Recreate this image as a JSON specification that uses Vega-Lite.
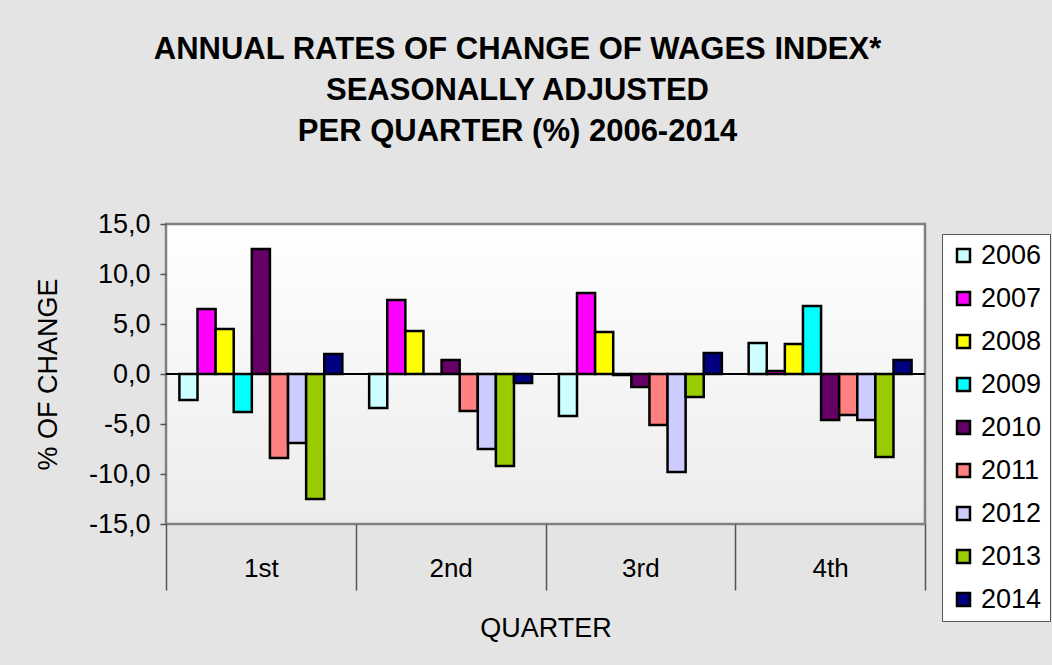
{
  "$schema": "https://vega.github.io/schema/vega-lite/v6.json",
  "width": 759,
  "height": 300,
  "autosize": {"type": "none"},
  "padding": {"left": 166, "top": 224, "right": 127, "bottom": 141},
  "background": "#e4e4e4",
  "title": {
    "text": ["ANNUAL RATES OF CHANGE OF WAGES INDEX*", "SEASONALLY ADJUSTED", "PER QUARTER (%) 2006-2014"],
    "font": "Liberation Sans",
    "fontSize": 31,
    "fontWeight": "bold",
    "lineHeight": 41,
    "anchor": "middle",
    "frame": "group",
    "dx": -28,
    "offset": 62,
    "color": "#000"
  },
  "data": {
    "values": [
      {"quarter": "1st", "year": "2006", "value": -2.6},
      {"quarter": "1st", "year": "2007", "value": 6.5},
      {"quarter": "1st", "year": "2008", "value": 4.5},
      {"quarter": "1st", "year": "2009", "value": -3.8},
      {"quarter": "1st", "year": "2010", "value": 12.5},
      {"quarter": "1st", "year": "2011", "value": -8.4},
      {"quarter": "1st", "year": "2012", "value": -6.9},
      {"quarter": "1st", "year": "2013", "value": -12.5},
      {"quarter": "1st", "year": "2014", "value": 2.0},
      {"quarter": "2nd", "year": "2006", "value": -3.4},
      {"quarter": "2nd", "year": "2007", "value": 7.4},
      {"quarter": "2nd", "year": "2008", "value": 4.3},
      {"quarter": "2nd", "year": "2009", "value": 0.0},
      {"quarter": "2nd", "year": "2010", "value": 1.4},
      {"quarter": "2nd", "year": "2011", "value": -3.7},
      {"quarter": "2nd", "year": "2012", "value": -7.5},
      {"quarter": "2nd", "year": "2013", "value": -9.2},
      {"quarter": "2nd", "year": "2014", "value": -0.9},
      {"quarter": "3rd", "year": "2006", "value": -4.2},
      {"quarter": "3rd", "year": "2007", "value": 8.1},
      {"quarter": "3rd", "year": "2008", "value": 4.2},
      {"quarter": "3rd", "year": "2009", "value": -0.1},
      {"quarter": "3rd", "year": "2010", "value": -1.3},
      {"quarter": "3rd", "year": "2011", "value": -5.1},
      {"quarter": "3rd", "year": "2012", "value": -9.8},
      {"quarter": "3rd", "year": "2013", "value": -2.3},
      {"quarter": "3rd", "year": "2014", "value": 2.1},
      {"quarter": "4th", "year": "2006", "value": 3.1},
      {"quarter": "4th", "year": "2007", "value": 0.3},
      {"quarter": "4th", "year": "2008", "value": 3.0},
      {"quarter": "4th", "year": "2009", "value": 6.8},
      {"quarter": "4th", "year": "2010", "value": -4.6},
      {"quarter": "4th", "year": "2011", "value": -4.1},
      {"quarter": "4th", "year": "2012", "value": -4.6},
      {"quarter": "4th", "year": "2013", "value": -8.3},
      {"quarter": "4th", "year": "2014", "value": 1.4}
    ]
  },
  "layer": [
    {
      "mark": {"type": "bar", "stroke": "#000", "strokeWidth": 2.5},
      "encoding": {
        "x": {
          "field": "quarter",
          "type": "nominal",
          "sort": ["1st", "2nd", "3rd", "4th"],
          "scale": {"paddingInner": 0, "paddingOuter": 0},
          "title": "QUARTER",
          "axis": {
            "labelAngle": 0,
            "tickBand": "extent",
            "tickSize": 66,
            "tickColor": "#555",
            "tickWidth": 1.5,
            "labelPadding": -35,
            "titlePadding": 25
          }
        },
        "xOffset": {
          "field": "year",
          "type": "nominal",
          "scale": {"paddingInner": 0, "paddingOuter": 0.74}
        },
        "y": {
          "field": "value",
          "type": "quantitative",
          "scale": {"domain": [-15, 15], "nice": false},
          "title": "% OF CHANGE",
          "axis": {
            "values": [-15, -10, -5, 0, 5, 10, 15],
            "labelExpr": "(datum.value < 0 ? '-' : '') + replace(format(abs(datum.value), '.1f'), '.', ',')",
            "labelFontSize": 27,
            "tickSize": 6,
            "tickColor": "#555",
            "tickWidth": 1.5,
            "labelPadding": 10,
            "titlePadding": 26
          }
        },
        "color": {
          "field": "year",
          "type": "nominal",
          "scale": {
            "domain": ["2006", "2007", "2008", "2009", "2010", "2011", "2012", "2013", "2014"],
            "range": ["#CCFFFF", "#FF00FF", "#FFFF00", "#00FFFF", "#660066", "#FF8080", "#CCCCFF", "#99CC00", "#000080"]
          },
          "legend": {
            "orient": "none",
            "legendX": 776,
            "legendY": 10,
            "title": null,
            "symbolType": "square",
            "symbolSize": 169,
            "symbolStrokeColor": "#000",
            "symbolStrokeWidth": 2.5,
            "labelFont": "Liberation Sans",
            "labelFontSize": 27,
            "labelColor": "#000",
            "labelOffset": 4,
            "rowPadding": 15,
            "padding": 8,
            "fillColor": "#ffffff",
            "strokeColor": "#555"
          }
        }
      }
    },
    {
      "mark": {"type": "rule", "color": "#000", "strokeWidth": 1.2},
      "encoding": {"y": {"datum": 0}}
    }
  ],
  "config": {
    "view": {
      "stroke": "#808080",
      "strokeWidth": 2.5,
      "fill": {
        "gradient": "linear",
        "x1": 0, "y1": 0, "x2": 0, "y2": 1,
        "stops": [
          {"offset": 0, "color": "#ffffff"},
          {"offset": 1, "color": "#ececec"}
        ]
      }
    },
    "axis": {
      "labelFont": "Liberation Sans",
      "titleFont": "Liberation Sans",
      "labelFontSize": 26,
      "titleFontSize": 27,
      "titleFontWeight": "normal",
      "labelColor": "#000",
      "titleColor": "#000",
      "grid": false,
      "domain": false
    }
  }
}
